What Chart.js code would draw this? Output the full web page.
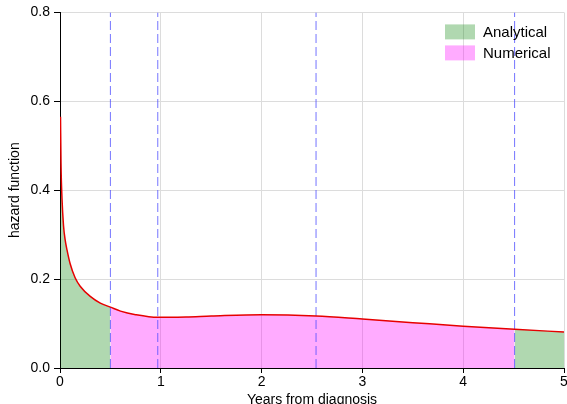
<!DOCTYPE html>
<html>
<head>
<meta charset="utf-8">
<script src="https://cdn.jsdelivr.net/npm/chart.js@4/dist/chart.umd.min.js"></script>
<style>
  html, body { margin: 0; padding: 0; background: #fff; }
  #wrap { width: 567px; height: 404px; }
</style>
</head>
<body>
<div id="wrap"><canvas id="hazardChart" width="567" height="404"></canvas></div>
<script>
const years  = [0.005, 0.01, 0.02, 0.035, 0.05, 0.07, 0.1, 0.15, 0.2, 0.3, 0.4, 0.5, 0.6, 0.75, 0.97, 1.25, 1.5, 2.0, 2.54, 3.0, 3.5, 4.0, 4.51, 5.0];
const hazard = [0.565, 0.46, 0.38, 0.32, 0.29, 0.265, 0.235, 0.203, 0.184, 0.161, 0.146, 0.137, 0.128, 0.12, 0.114, 0.115, 0.117, 0.120, 0.117, 0.110, 0.102, 0.094, 0.087, 0.081];
const cutpoints = [0.5, 0.97, 2.54, 4.51];
const numericalSpan = [0.5, 4.51];
const xTicks = [0, 1, 2, 3, 4, 5];
const yTicks = [0, 0.2, 0.4, 0.6, 0.8];
const seriesLabels = ['Analytical', 'Numerical'];
const xTitle = 'Years from diagnosis';
const yTitle = 'hazard function';

const FONT = '"Liberation Sans", Arial, sans-serif';
const GREEN = 'rgba(0, 128, 0, 0.31)';
const PINK = 'rgba(255, 0, 255, 0.33)';

document.addEventListener("DOMContentLoaded", () => {
  const pts = years.map((x, i) => ({ x: x, y: hazard[i] }));
  const inRange = (lo, hi) => pts.filter(p => p.x >= lo && p.x <= hi);

  const fillSet = (label, data, color, legendEntry) => ({
    label: label,
    data: data,
    backgroundColor: color,
    borderWidth: 0,
    pointRadius: 0,
    fill: 'origin',
    cubicInterpolationMode: 'monotone',
    legendEntry: legendEntry,
    order: 3
  });

  const datasets = [
    {
      label: 'hazard',
      data: pts,
      borderColor: '#e60000',
      borderWidth: 1.5,
      pointRadius: 0,
      fill: false,
      cubicInterpolationMode: 'monotone',
      order: 0
    },
    ...cutpoints.map(c => ({
      label: 'cut',
      data: [{ x: c, y: yTicks[0] }, { x: c, y: yTicks[yTicks.length - 1] }],
      borderColor: 'rgba(70, 70, 255, 0.75)',
      borderWidth: 1,
      borderDash: [9, 4],
      pointRadius: 0,
      fill: false,
      order: 1
    })),
    fillSet(seriesLabels[0], inRange(xTicks[0], numericalSpan[0]), GREEN, true),
    fillSet(seriesLabels[1], inRange(numericalSpan[0], numericalSpan[1]), PINK, true),
    fillSet(seriesLabels[0], inRange(numericalSpan[1], xTicks[xTicks.length - 1]), GREEN, false)
  ];

  // legend in the top right corner, x title cut by the bottom edge
  const extras = {
    id: 'extras',
    afterDraw(chart) {
      const { ctx, chartArea } = chart;
      ctx.save();
      ctx.font = '15px ' + FONT;
      ctx.textBaseline = 'middle';
      ctx.textAlign = 'left';
      chart.data.datasets.filter(d => d.legendEntry).forEach((d, i) => {
        const x = chartArea.right - 119;
        const y = chartArea.top + 12 + i * 21;
        ctx.fillStyle = d.backgroundColor;
        ctx.fillRect(x, y, 30, 15);
        ctx.fillStyle = '#000';
        ctx.fillText(d.label, x + 38, y + 8);
      });
      ctx.font = '14px ' + FONT;
      ctx.textAlign = 'center';
      ctx.textBaseline = 'alphabetic';
      ctx.fillText(xTitle, (chartArea.left + chartArea.right) / 2, 403.5);
      ctx.restore();
    }
  };

  const ctx = document.getElementById('hazardChart').getContext('2d');
  new Chart(ctx, {
    type: 'line',
    data: { datasets: datasets },
    plugins: [extras],
    options: {
      responsive: false,
      animation: false,
      layout: { padding: { top: 12, right: 3, left: 0, bottom: 0 } },
      plugins: {
        legend: { display: false },
        tooltip: { enabled: false }
      },
      scales: {
        x: {
          type: 'linear',
          min: xTicks[0],
          max: xTicks[xTicks.length - 1],
          afterBuildTicks: s => { s.ticks = xTicks.map(v => ({ value: v })); },
          afterFit: s => { s.height = 36; s.paddingLeft = 0; s.paddingRight = 0; },
          ticks: {
            font: { family: FONT, size: 14 },
            color: '#000',
            padding: 1,
            maxRotation: 0,
            callback: v => String(v)
          },
          grid: { color: '#dcdcdc', tickColor: '#000', tickLength: 5 },
          border: { color: '#000', width: 1 }
        },
        y: {
          min: yTicks[0],
          max: yTicks[yTicks.length - 1],
          afterBuildTicks: s => { s.ticks = yTicks.map(v => ({ value: v })); },
          afterFit: s => { s.width = 60; },
          ticks: {
            font: { family: FONT, size: 14 },
            color: '#000',
            padding: 4,
            callback: v => v.toFixed(1)
          },
          grid: { color: '#dcdcdc', tickColor: '#000', tickLength: 6 },
          border: { color: '#000', width: 1 },
          title: {
            display: true,
            text: yTitle,
            font: { family: FONT, size: 14 },
            color: '#000',
            padding: { top: 7, bottom: 0 }
          }
        }
      }
    }
  });
});
</script>
</body>
</html>
